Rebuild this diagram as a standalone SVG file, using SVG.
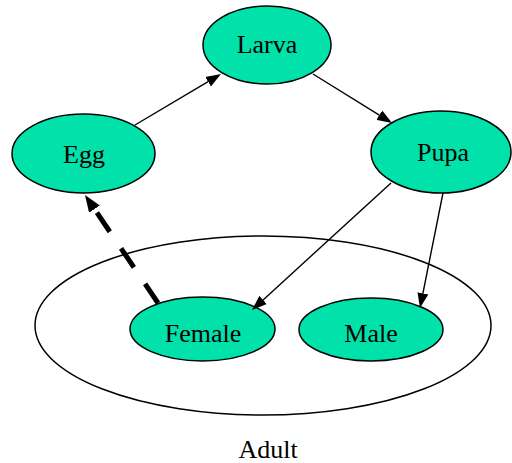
<svg xmlns="http://www.w3.org/2000/svg" width="512" height="463" viewBox="0 0 512 463">
<style>
.node ellipse{fill:#00E2AA;stroke:#000;stroke-width:1.5}
.cluster ellipse{fill:none;stroke:#000;stroke-width:1.5}
text{font-family:"Liberation Serif","Times New Roman",serif;font-size:26px;fill:#000;text-anchor:middle}
.edge{fill:none;stroke:#000;stroke-width:1.4}
.dashed{fill:none;stroke:#000;stroke-width:5;stroke-dasharray:23 20}
</style>
<defs>
<marker id="arr" markerUnits="userSpaceOnUse" markerWidth="15" markerHeight="12" refX="0" refY="6" orient="auto">
<path d="M0,0.5 L15,6 L0,11.5 z" fill="#000"/>
</marker>
<marker id="arrBig" markerUnits="userSpaceOnUse" markerWidth="17" markerHeight="14" refX="0" refY="7" orient="auto">
<path d="M0,0.5 L17,7 L0,13.5 z" fill="#000"/>
</marker>
</defs>
<g id="adult">
<g class="cluster"><ellipse cx="263" cy="325.5" rx="228" ry="89.5"/></g>
<text x="268" y="458">Adult</text>
</g>
<g id="larva" class="node"><ellipse cx="267" cy="45" rx="64" ry="39"/><text x="267" y="53">Larva</text></g>
<g id="egg" class="node"><ellipse cx="83.5" cy="153.5" rx="71.5" ry="39.5"/><text x="84" y="163">Egg</text></g>
<g id="pupa" class="node"><ellipse cx="441" cy="152" rx="70" ry="41"/><text x="443" y="161">Pupa</text></g>
<g id="female" class="node"><ellipse cx="202.5" cy="329" rx="72.5" ry="32"/><text x="203" y="342">Female</text></g>
<g id="male" class="node"><ellipse cx="371" cy="329.5" rx="72" ry="31.5"/><text x="371" y="342">Male</text></g>
<g id="connectors">
<path class="edge" d="M135,125 L208.1,81.7" marker-end="url(#arr)"/>
<path class="edge" d="M313,74 L379.3,115.1" marker-end="url(#arr)"/>
<path class="edge" d="M391,183 L263.1,299.9" marker-end="url(#arr)"/>
<path class="edge" d="M443,193 L422.9,293.3" marker-end="url(#arr)"/>
<path class="dashed" d="M158,303 L94.5,209.1" marker-end="url(#arrBig)"/>
</g>
</svg>
